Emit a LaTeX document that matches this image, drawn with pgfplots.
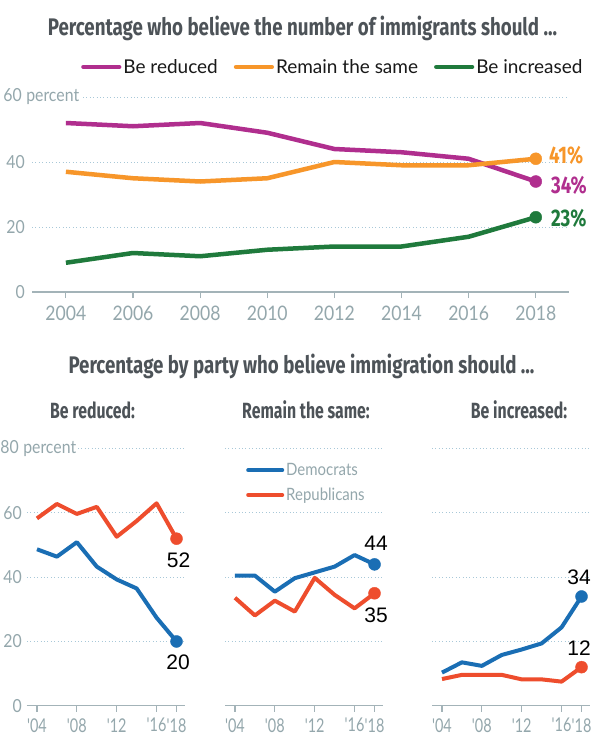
\documentclass[border=0pt]{standalone}
\usepackage{pgfplots}
\pgfplotsset{compat=1.18}
\usepackage{fontspec}
\setmainfont{Lato}
\newfontfamily\condfont[FakeStretch=0.88]{Lato}
\newfontfamily\narrowfont[FakeStretch=0.76]{Lato}
\newfontfamily\headfont[FakeStretch=0.78]{Fira Sans}
\newfontfamily\subfont[FakeStretch=0.72]{Fira Sans}
\newfontfamily\numfont{Liberation Sans}

\definecolor{cmag}{HTML}{B02E8E}
\definecolor{corange}{HTML}{F7962A}
\definecolor{cgreen}{HTML}{1F7A3C}
\definecolor{cblue}{HTML}{1A6EB4}
\definecolor{cred}{HTML}{EE4D2D}
\definecolor{ctitle}{HTML}{4D5358}
\definecolor{ctick}{HTML}{94A7AC}
\definecolor{cgrid}{HTML}{A8C8D8}
\definecolor{caxis}{HTML}{A3B3B8}

\newcommand\pct{\rlap{\setlength{\fboxsep}{1.5pt}\colorbox{white}{percent}}}

\tikzset{vlab/.style={font=\numfont\fontsize{21}{22}\selectfont, text=black, inner sep=0pt}}

\pgfplotsset{
  base/.style={
    scale only axis, anchor=south west, clip=false,
    axis x line*=bottom, axis y line*=left,
    y axis line style={draw=none},
    x axis line style={caxis, line width=1.2pt},
    xtick align=outside, major tick length=6pt,
    xtick style={caxis, line width=1.2pt},
    ytick style={draw=none},
    ymajorgrids,
    grid style={cgrid, line width=1pt, dash pattern=on 0.8pt off 2.6pt},
    /pgf/number format/assume math mode=true,
    /pgf/number format/1000 sep={},
    ticklabel style={text=ctick},
    yticklabel style={font=\condfont\fontsize{18}{20}\selectfont,
      anchor=east, inner sep=0pt},
  },
  sline/.style={line width=#1, line join=round},
  dot/.style={only marks, color=#1, mark=*, mark size=6pt, mark options={draw=none, fill=#1}},
  panel/.style={
    base, width=158pt, height=257pt,
    xmin=2003, xmax=2018.85, ymin=0, ymax=80,
    xtick={2004,2008,2012,2016,2018},
    xticklabels={'04,'08,'12,'16,'18},
    xticklabel style={font=\narrowfont\fontsize{19}{20}\selectfont, yshift=-3pt},
    ytick={0,20,40,60,80},
  },
}

\begin{document}
\begin{tikzpicture}
\path[use as bounding box, fill=white] (0pt,0pt) rectangle (603pt,-739pt);

\node[anchor=base, text=ctitle, font=\headfont\bfseries\fontsize{24}{26}\selectfont]
  at (302.5pt,-35pt) {Percentage who believe the number of immigrants should ...};
\node[anchor=base, text=ctitle, font=\headfont\bfseries\fontsize{24}{26}\selectfont]
  at (301.5pt,-373pt) {Percentage by party who believe immigration should ...};
\node[anchor=base, text=ctitle, font=\subfont\bfseries\fontsize{22}{24}\selectfont]
  at (92.5pt,-418pt) {Be reduced:};
\node[anchor=base, text=ctitle, font=\subfont\bfseries\fontsize{22}{24}\selectfont]
  at (306pt,-418pt) {Remain the same:};
\node[anchor=base, text=ctitle, font=\subfont\bfseries\fontsize{22}{24}\selectfont]
  at (519pt,-418pt) {Be increased:};

% ---- top chart
\begin{axis}[base,
  at={(32pt,-292pt)}, width=537pt, height=195pt,
  xmin=2002.99, xmax=2018.99, ymin=0, ymax=60,
  xtick={2004,2006,...,2018},
  xticklabel style={font=\condfont\fontsize{20}{22}\selectfont, yshift=-4pt},
  ytick={0,20,40,60}, yticklabels={0,20,40,60\,\pct},
  yticklabel style={xshift=-7pt},
  legend columns=3,
  legend style={at={(0.0857,1.154)}, anchor=west, draw=none, fill=none,
    font=\fontsize{19}{21}\selectfont, text=black!90,
    /tikz/every even column/.append style={column sep=14pt}},
  legend image code/.code={\draw[#1, line width=4.2pt, line cap=round] (2pt,0pt) -- (38pt,0pt);},
]
\addplot[sline=4.5pt, cmag] coordinates {(2004,52) (2006,51) (2008,52) (2010,49) (2012,44) (2014,43) (2016,41) (2018,34)};
\addlegendentry{Be reduced}
\addplot[sline=4.5pt, corange] coordinates {(2004,37) (2006,35) (2008,34) (2010,35) (2012,40) (2014,39) (2016,39) (2018,41)};
\addlegendentry{Remain the same}
\addplot[sline=4.5pt, cgreen] coordinates {(2004,9) (2006,12) (2008,11) (2010,13) (2012,14) (2014,14) (2016,17) (2018,23)};
\addlegendentry{Be increased}
\addplot[dot=cmag, forget plot] coordinates {(2018,34)};
\addplot[dot=corange, forget plot] coordinates {(2018,41)};
\addplot[dot=cgreen, forget plot] coordinates {(2018,23)};
\node[anchor=west, inner sep=0pt, text=corange, font=\headfont\bfseries\fontsize{24}{26}\selectfont] at (axis cs:2018.39,42.2) {41\%};
\node[anchor=west, inner sep=0pt, text=cmag, font=\headfont\bfseries\fontsize{24}{26}\selectfont] at (axis cs:2018.45,32.9) {34\%};
\node[anchor=west, inner sep=0pt, text=cgreen, font=\headfont\bfseries\fontsize{24}{26}\selectfont] at (axis cs:2018.45,22.8) {23\%};
\end{axis}

% ---- panel 1: be reduced
\begin{axis}[panel, at={(27pt,-705.7pt)},
  yticklabels={0,20,40,60,80\,\pct},
  yticklabel style={xshift=-5pt}]
\addplot[sline=4pt, cred] coordinates {(2004,58.3) (2006,62.8) (2008,59.7) (2010,61.9) (2012,52.6) (2014,57.5) (2016,63) (2018,52)};
\addplot[sline=4pt, cblue] coordinates {(2004,48.7) (2006,46.4) (2008,50.9) (2010,43.3) (2012,39.3) (2014,36.5) (2016,27.4) (2018,20)};
\addplot[dot=cred] coordinates {(2018,52)};
\addplot[dot=cblue] coordinates {(2018,20)};
\node[vlab] at (axis cs:2018.2,45.4) {52};
\node[vlab] at (axis cs:2018.15,13.6) {20};
\end{axis}

% ---- panel 2: remain the same
\begin{axis}[panel, at={(225pt,-705.7pt)}, yticklabels={},
  legend cell align=left,
  legend style={at={(0.114,0.868)}, anchor=west, draw=none, fill=none,
    font=\condfont\fontsize{17}{18}\selectfont, text=ctick, row sep=7pt},
  legend image code/.code={\draw[#1, line width=4pt, line cap=round] (2pt,0pt) -- (36pt,0pt);},
]
\addplot[sline=4pt, cblue] coordinates {(2004,40.5) (2006,40.5) (2008,35.5) (2010,39.7) (2012,41.5) (2014,43.3) (2016,46.9) (2018,44)};
\addlegendentry{Democrats}
\addplot[sline=4pt, cred] coordinates {(2004,33.6) (2006,28.1) (2008,32.7) (2010,29.3) (2012,39.8) (2014,34.5) (2016,30.3) (2018,35)};
\addlegendentry{Republicans}
\addplot[dot=cblue, forget plot] coordinates {(2018,44)};
\addplot[dot=cred, forget plot] coordinates {(2018,35)};
\node[vlab] at (axis cs:2018.15,50.6) {44};
\node[vlab] at (axis cs:2018.15,28.2) {35};
\end{axis}

% ---- panel 3: be increased
\begin{axis}[panel, at={(432pt,-705.7pt)}, yticklabels={}]
\addplot[sline=4pt, cblue] coordinates {(2004,10.3) (2006,13.5) (2008,12.4) (2010,15.8) (2012,17.5) (2014,19.4) (2016,24.4) (2018,34)};
\addplot[sline=4pt, cred] coordinates {(2004,8.3) (2006,9.6) (2008,9.6) (2010,9.6) (2012,8.2) (2014,8.2) (2016,7.5) (2018,12)};
\addplot[dot=cblue] coordinates {(2018,34)};
\addplot[dot=cred] coordinates {(2018,12)};
\node[vlab] at (axis cs:2017.75,40.1) {34};
\node[vlab] at (axis cs:2017.75,18) {12};
\end{axis}
\end{tikzpicture}
\end{document}
